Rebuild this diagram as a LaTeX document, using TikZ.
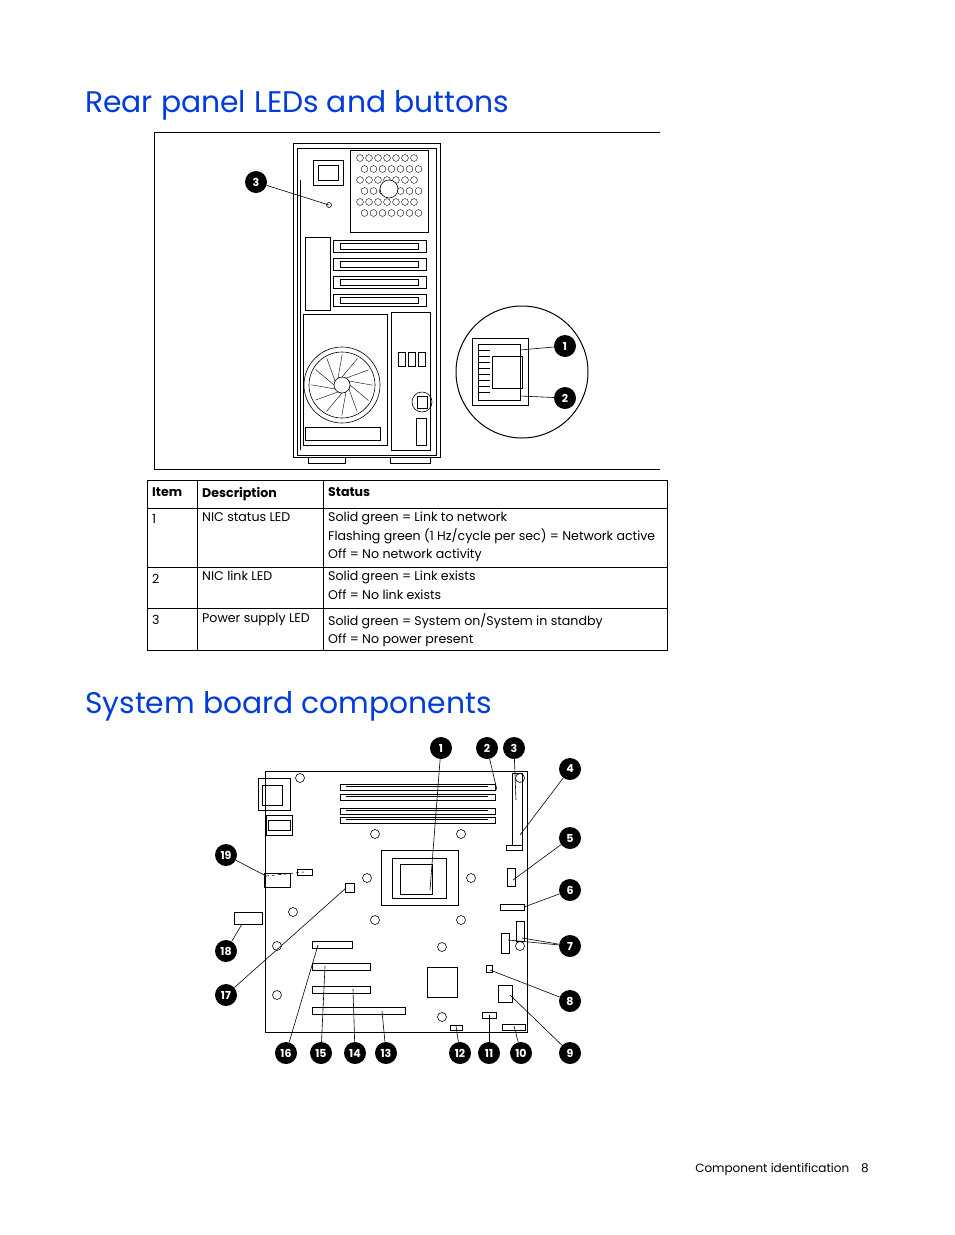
\documentclass[tikz,border=0pt]{standalone}
\usepackage{fontspec}
\setmainfont{Poppins}
\definecolor{hpblue}{RGB}{0,60,220}
\tikzset{
 co/.style={circle,fill=black,text=white,inner sep=0pt,minimum size=22pt,font=\fontsize{11}{11}\selectfont\bfseries},
 ld/.style={line width=0.6pt},
 part/.style={draw,line width=0.6pt},
 ttl/.style={anchor=base west,text=hpblue,font=\fontsize{29.8}{30}\selectfont,inner sep=0pt},
 cell/.style={anchor=north west,align=left,font=\fontsize{12.6}{15}\selectfont,inner sep=0pt},
}
\begin{document}
\begin{tikzpicture}[x=1pt,y=-1pt]
\useasboundingbox (0,0) rectangle (954,1235);
% ---------- title 1
\node[ttl] (t1) at (85,112) {Rear panel LEDs and buttons};
\draw[line width=1pt] (660,132) -- (154,132) -- (154,469) -- (660,469);
% tower
\draw[part] (293,143) rectangle (440,457);
\draw[part] (297,148) rectangle (436,455);
\draw[part] (308,457) rectangle (345,463);
\draw[part] (390,457) rectangle (430,463);
% psu
\draw[part] (350,150) rectangle (428,232);
\draw[part] (313,160) rectangle (343,185);
\draw[part] (318,165) rectangle (338,180);
\foreach \i in {0,...,5}\foreach \j in {0,...,6}
  \draw[line width=0.4pt] ({360+\j*9+mod(\i,2)*4.5},{158+\i*11}) circle (3.4);
\draw[part,fill=white] (389,189) circle (9);
\coordinate (psuled) at (329,205);
\draw[part] (psuled) circle (2.5);
% slots
\foreach \y in {240,258,276,294}{
 \draw[part] (333,\y) rectangle (426,\y+12);
 \draw[part] (340,\y+3) rectangle (418,\y+9);}
\draw[part] (305,237) rectangle (330,310);
\draw[part] (300,180) -- (300,450);
% lower area
\draw[part] (303,314) rectangle (387,445);
\draw[part] (391,312) rectangle (430,450);
\draw[part] (342,385) circle (38);
\draw[part] (342,385) circle (33);
\foreach \a in {0,30,...,330}\draw[line width=0.4pt] (342,385) ++(\a:8) -- ++(\a+40:24);
\draw[part] (342,385) circle (8);
\foreach \x in {398,408,418} \draw[part] (\x,352) rectangle ++(7,14);
\draw[part] (422,402) circle (10);
\draw[part] (417,396) rectangle (427,408);
\draw[part] (416,418) rectangle (426,445);
\draw[part] (305,427) rectangle (380,440);
% zoom circle
\draw[line width=1pt] (522,372) circle (66);
\draw[part] (472,338) rectangle (528,405);
\draw[part] (478,344) rectangle (520,400);
\draw[part] (492,356) rectangle (522,388);
\foreach \y in {350,356,...,396}\draw[line width=0.4pt] (478,\y) -- (490,\y);
\coordinate (nic1) at (520,350);
\coordinate (nic2) at (520,396);
\node[co] (c3a) at (256,182) {3};
\node[co] (c1a) at (565,346) {1};
\node[co] (c2a) at (565,398) {2};
\draw[ld] (c3a) -- (psuled);
\draw[ld] (c1a) -- (nic1);
\draw[ld] (c2a) -- (nic2);
% ---------- table
\draw[line width=0.8pt] (147,480) rectangle (667,650);
\foreach \y in {508,567,608}\draw[line width=0.8pt] (147,\y) -- (667,\y);
\draw[line width=0.8pt] (197,480) -- (197,650) (323,480) -- (323,650);
\node[cell,font=\fontsize{12.6}{15}\selectfont\bfseries] (h1) at (152,487) {Item};
\node[cell,font=\fontsize{12.6}{15}\selectfont\bfseries] (h2) at (202,487) {Description};
\node[cell,font=\fontsize{12.6}{15}\selectfont\bfseries] (h3) at (328,487) {Status};
\node[cell] (r11) at (152,514) {1};
\node[cell] (r12) at (202,512) {NIC status LED};
\node[cell,font=\fontsize{12.6}{18.5}\selectfont] (r13) at (328,512) {Solid green = Link to network\\Flashing green (1 Hz/cycle per sec) = Network active\\Off = No network activity};
\node[cell] (r21) at (152,574) {2};
\node[cell] (r22) at (202,571) {NIC link LED};
\node[cell,font=\fontsize{12.6}{18.5}\selectfont] (r23) at (328,571) {Solid green = Link exists\\Off = No link exists};
\node[cell] (r31) at (152,615) {3};
\node[cell] (r32) at (202,613) {Power supply LED};
\node[cell,font=\fontsize{12.6}{18.5}\selectfont] (r33) at (328,613) {Solid green = System on/System in standby\\Off = No power present};
% ---------- title 2
\node[ttl] (t2) at (85,713) {System board components};
% board
\draw[part] (265,771) rectangle (527,1032);
\draw[part] (258,778) rectangle (290,810);
\draw[part] (262,785) rectangle (282,805);
\draw[part] (266,815) rectangle (292,835);
\draw[part] (268,820) rectangle (290,830);
\foreach \y in {787,797,811,820}{
 \draw[part] (340,\y-3) rectangle (495,\y+3);
 \draw[part] (346,\y-1) -- (488,\y-1);}
\draw[part] (381,850) rectangle (458,905);
\draw[part] (392,858) rectangle (446,898);
\draw[part] (400,864) rectangle (432,894);
\foreach \p in {(300,778),(375,834),(461,834),(367,878),(471,878),(375,920),(461,920),(442,947),(442,1017),(277,946),(277,995),(293,912),(520,946),(520,778)}
 \draw[part] \p circle (4.5);
\draw[part] (512,773) rectangle (522,845);
\draw[part] (506,845) rectangle (522,850);
\draw[part] (507,868) rectangle (515,886);
\draw[part] (500,904) rectangle (524,910);
\draw[part] (501,933) rectangle (509,953);
\draw[part] (516,921) rectangle (524,941);
\draw[part] (486,965) rectangle (492,972);
\draw[part] (427,967) rectangle (457,997);
\draw[part] (498,985) rectangle (512,1002);
\draw[part] (482,1012) rectangle (496,1018);
\draw[part] (450,1025) rectangle (462,1030);
\draw[part] (502,1024) rectangle (525,1030);
\draw[part] (345,883) rectangle (354,892);
\draw[part] (264,873) rectangle (290,887);
\draw[part] (297,869) rectangle (312,875);
\draw[part] (234,912) rectangle (262,924);
\draw[part] (312,941) rectangle (352,948);
\draw[part] (312,963) rectangle (370,970);
\draw[part] (312,986) rectangle (370,993);
\draw[part] (312,1007) rectangle (405,1014);
\coordinate (p1) at (430,890);
\coordinate (p2) at (497,790);
\coordinate (p3) at (516,800);
\coordinate (p4) at (520,835);
\coordinate (p5) at (513,880);
\coordinate (p6) at (524,907);
\coordinate (p7a) at (522,938);
\coordinate (p7b) at (508,940);
\coordinate (p8) at (490,970);
\coordinate (p9) at (510,995);
\coordinate (p10) at (514,1026);
\coordinate (p11) at (489,1015);
\coordinate (p12) at (456,1026);
\coordinate (p13) at (382,1011);
\coordinate (p14) at (353,989);
\coordinate (p15) at (325,966);
\coordinate (p16) at (318,945);
\coordinate (p17) at (346,888);
\coordinate (p18) at (242,924);
\coordinate (p19) at (266,876);
\coordinate (p19b) at (304,872);
\node[co] (b1) at (441,748) {1};
\node[co] (b2) at (487,748) {2};
\node[co] (b3) at (514,748) {3};
\node[co] (b4) at (570,769) {4};
\node[co] (b5) at (570,838) {5};
\node[co] (b6) at (570,890) {6};
\node[co] (b7) at (570,946) {7};
\node[co] (b8) at (570,1001) {8};
\node[co] (b9) at (570,1053) {9};
\node[co] (b10) at (521,1053) {10};
\node[co] (b11) at (489,1053) {11};
\node[co] (b12) at (460,1053) {12};
\node[co] (b13) at (386,1053) {13};
\node[co] (b14) at (355,1053) {14};
\node[co] (b15) at (321,1053) {15};
\node[co] (b16) at (286,1053) {16};
\node[co] (b17) at (226,995) {17};
\node[co] (b18) at (226,951) {18};
\node[co] (b19) at (226,855) {19};
\foreach \b/\p in {b1/p1,b2/p2,b3/p3,b4/p4,b5/p5,b6/p6,b7/p7a,b7/p7b,b8/p8,b9/p9,b10/p10,b11/p11,b12/p12,b13/p13,b14/p14,b15/p15,b16/p16,b17/p17,b18/p18,b19/p19}
 \draw[ld] (\b) -- (\p);
\draw[ld,dashed] (p19) -- (p19b);
% footer
\node[anchor=base east,font=\fontsize{12}{12}\selectfont,inner sep=0pt] (ft) at (869,1172) {Component identification\hspace{12pt}8};
\end{tikzpicture}
\end{document}
